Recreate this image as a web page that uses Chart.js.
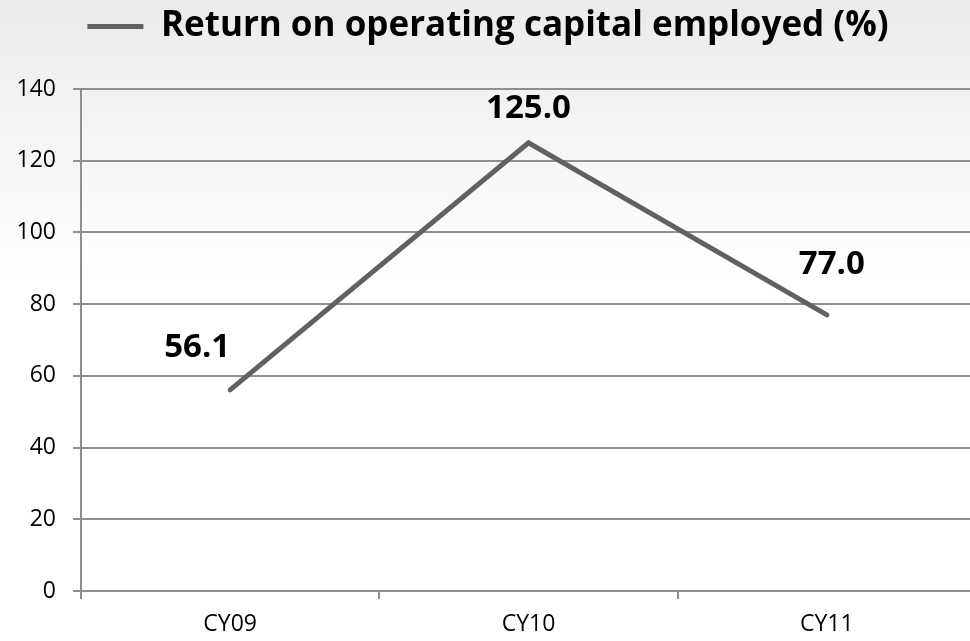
<!DOCTYPE html>
<html>
<head>
<meta charset="utf-8">
<script src="https://cdn.jsdelivr.net/npm/chart.js@4"></script>
<style>
  body { margin: 0; overflow: hidden; background: #fff; }
  #wrap { position: relative; width: 976px; height: 641px; }
</style>
</head>
<body>
<div id="wrap"><canvas id="chart"></canvas></div>
<script>
const categories = ["CY09", "CY10", "CY11"];
const roce = [56.1, 125.0, 77.0];
const seriesName = "Return on operating capital employed (%)";
const yTicks = [0, 20, 40, 60, 80, 100, 120, 140];

const FONT = "'Open Sans', 'DejaVu Sans', sans-serif";
const GRID = "#8f8f8f";
const LINE = "#616161";

// light grey to white wash behind everything
const bgPlugin = {
  id: "bg",
  beforeDraw(chart) {
    const { ctx, width, height } = chart;
    const g = ctx.createLinearGradient(0, 0, 0, 280);
    g.addColorStop(0, "#ebebeb");
    g.addColorStop(1, "#ffffff");
    ctx.save();
    ctx.fillStyle = g;
    ctx.fillRect(0, 0, width, height);
    ctx.restore();
  }
};

// leave a gap between the legend and the plot
const legendGap = {
  id: "legendGap",
  beforeInit(chart) {
    const fit = chart.legend.fit;
    chart.legend.fit = function () {
      fit.call(this);
      this.height += 35;
    };
  }
};

// bold value labels above each point
const labelOffsets = [[-33, -42], [0, -34], [5, -50]];
const valueLabels = {
  id: "valueLabels",
  afterDatasetsDraw(chart) {
    const ctx = chart.ctx;
    const meta = chart.getDatasetMeta(0);
    ctx.save();
    ctx.font = "bold 33px " + FONT;
    ctx.fillStyle = "#000";
    ctx.textAlign = "center";
    ctx.textBaseline = "middle";
    meta.data.forEach((pt, i) => {
      const off = labelOffsets[i] || [0, -35];
      ctx.fillText(roce[i].toFixed(1), pt.x + off[0], pt.y + off[1]);
    });
    ctx.restore();
  }
};

new Chart(document.getElementById("chart"), {
  type: "line",
  data: {
    labels: categories,
    datasets: [{
      label: seriesName,
      data: roce,
      borderColor: LINE,
      backgroundColor: LINE,
      borderWidth: 5,
      borderCapStyle: "round",
      borderJoinStyle: "miter",
      pointRadius: 0,
      tension: 0
    }]
  },
  options: {
    responsive: true,
    maintainAspectRatio: false,
    animation: false,
    layout: { padding: { top: 0, left: 0, right: 0, bottom: 0 } },
    plugins: {
      tooltip: { enabled: false },
      legend: {
        display: true,
        position: "top",
        labels: {
          color: "#000",
          font: { family: FONT, size: 35, weight: "bold" },
          boxWidth: 56,
          boxHeight: 5,
          padding: 9,
          generateLabels(chart) {
            return Chart.defaults.plugins.legend.labels.generateLabels(chart).map(l => {
              l.lineWidth = 0;
              l.fillStyle = LINE;
              return l;
            });
          }
        }
      }
    },
    scales: {
      x: {
        offset: true,
        grid: {
          display: true,
          offset: true,
          drawOnChartArea: false,
          drawTicks: true,
          tickLength: 8,
          color: GRID,
          lineWidth: 2
        },
        border: { display: true, color: GRID, width: 2 },
        ticks: {
          color: "#000",
          font: { family: FONT, size: 23 },
          padding: 12
        },
        afterFit(scale) { scale.height = 50; }
      },
      y: {
        min: 0,
        max: 140,
        afterBuildTicks(scale) {
          scale.ticks = yTicks.map(v => ({ value: v }));
        },
        grid: {
          color: GRID,
          lineWidth: 2,
          drawTicks: true,
          tickLength: 8
        },
        border: { display: true, color: GRID, width: 2 },
        ticks: {
          color: "#000",
          font: { family: FONT, size: 23 },
          padding: 17
        },
        afterFit(scale) { scale.width = 81; }
      }
    }
  },
  plugins: [bgPlugin, legendGap, valueLabels]
});
</script>
</body>
</html>
